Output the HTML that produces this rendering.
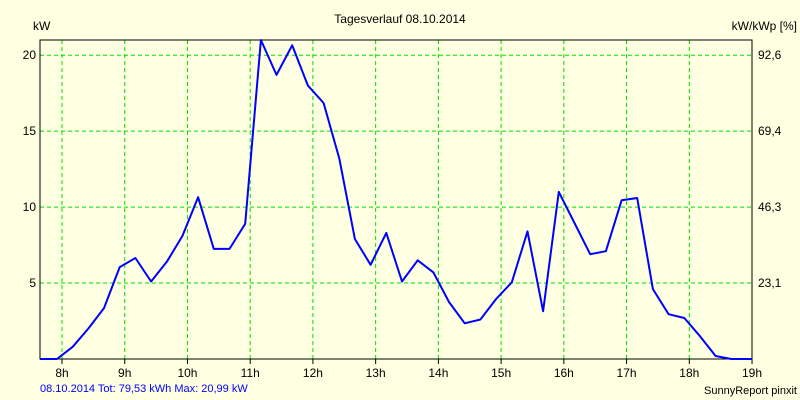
<!DOCTYPE html>
<html><head><meta charset="utf-8"><style>
body{margin:0;background:#FFFFE1;}
svg{display:block;font-family:"Liberation Sans",sans-serif;}
</style></head><body>
<svg id="c" width="800" height="400">
<rect width="800" height="400" fill="#FFFFE1"/>
<text x="400" y="23" font-size="12" text-anchor="middle">Tagesverlauf 08.10.2014</text>
<text x="33" y="30" font-size="12">kW</text>
<text x="797" y="30" font-size="12" text-anchor="end">kW/kWp [%]</text>
<text x="40" y="392" font-size="11" fill="#0000FF">08.10.2014 Tot: 79,53 kWh Max: 20,99 kW</text>
<text x="797" y="394" font-size="11" text-anchor="end">SunnyReport pinxit</text>
<g id="grid"></g>
<g id="ticks"></g>
<rect x="40" y="40" width="712" height="319" fill="none" stroke="#000" stroke-width="1"/>
<path id="line" fill="none" stroke="#0000FF" stroke-width="2" stroke-linejoin="round"/>
</svg>
<script>
const hours=[7.65,7.92,8.17,8.42,8.67,8.92,9.17,9.42,9.67,9.92,10.17,10.42,10.67,10.92,11.17,11.42,11.67,11.92,12.17,12.42,12.67,12.92,13.17,13.42,13.67,13.92,14.17,14.42,14.67,14.92,15.17,15.42,15.67,15.92,16.17,16.42,16.67,16.92,17.17,17.42,17.67,17.92,18.17,18.42,18.67,19.0];
const power=[0,0,0.8,2.0,3.35,6.05,6.65,5.1,6.4,8.1,10.65,7.25,7.25,8.9,21.0,18.7,20.65,18.0,16.85,13.2,7.9,6.2,8.3,5.1,6.5,5.7,3.75,2.35,2.6,3.95,5.05,8.4,3.15,11.0,8.95,6.9,7.1,10.45,10.6,4.6,2.95,2.7,1.5,0.2,0,0];
const xTicks=[8,9,10,11,12,13,14,15,16,17,18,19];
const yTicks=[5,10,15,20];
const yTicksRight=["23,1","46,3","69,4","92,6"];
const X=h=>62+(h-8)*62.73;
const Y=v=>359-v*15.19;
const NS="http://www.w3.org/2000/svg";
const g=document.getElementById('grid'),t=document.getElementById('ticks');
function mk(p,tag,a){const e=document.createElementNS(NS,tag);for(const k in a)e.setAttribute(k,a[k]);p.appendChild(e);return e;}
xTicks.forEach(h=>{
 const x=X(h);
 if(x<751){const l=mk(g,'line',{x1:x,x2:x,y1:40,y2:359,stroke:'#00DD00','stroke-dasharray':'4,3'});
 
 }
 const tk=mk(t,'line',{x1:x,x2:x,y1:359,y2:364,stroke:'#000'});
 
 
 const tx=mk(t,'text',{x:x,y:377,'font-size':12,'text-anchor':'middle'});tx.textContent=h+'h';
 
 
});
yTicks.forEach((v,i)=>{
 const y=Y(v);
 const l=mk(g,'line',{x1:40,x2:752,y1:y,y2:y,stroke:'#00DD00','stroke-dasharray':'4,3'});
 
 
 const a=mk(t,'text',{x:36,y:y+4,'font-size':12,'text-anchor':'end'});a.textContent=v;
 
 
 const b=mk(t,'text',{x:758,y:y+4,'font-size':12});b.textContent=yTicksRight[i];
 
 
});
const ln=document.getElementById('line');
ln.setAttribute('d',hours.map((h,i)=>(i?'L':'M')+X(h).toFixed(1)+','+Y(power[i]).toFixed(1)).join(''));


</script>
</body></html>
